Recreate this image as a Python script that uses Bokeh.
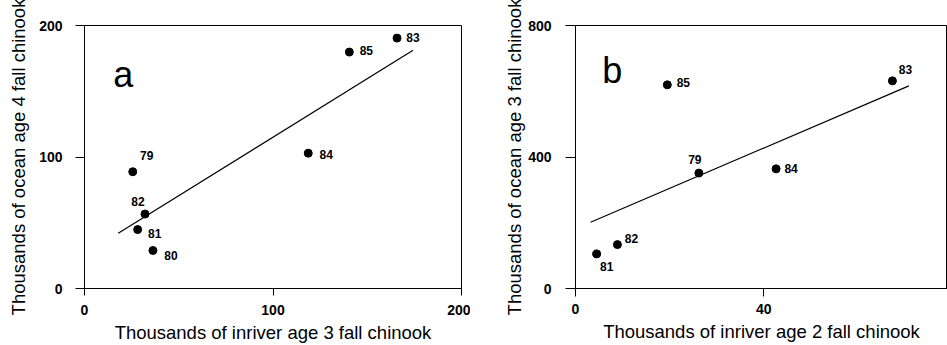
from bokeh.plotting import figure
from bokeh.layouts import row
from bokeh.models import ColumnDataSource, Range1d, FixedTicker, Label
from bokeh.core.properties import value
from bokeh.embed import file_html
from bokeh.resources import INLINE

FONT = "Liberation Sans"

# ---- Panel a data ----
a_years = ["79", "82", "81", "80", "84", "85", "83"]
a_inriver_age3 = [25.6, 32.1, 28.2, 36.3, 118.7, 140.5, 165.8]
a_ocean_age4 = [88.8, 56.6, 44.8, 28.9, 102.9, 179.8, 190.4]
a_fit_x = [17.9, 174.3]
a_fit_y = [42.0, 181.1]
a_xticks = [0, 100, 200]
a_yticks = [0, 100, 200]

# ---- Panel b data ----
b_years = ["85", "83", "79", "84", "82", "81"]
b_inriver_age2 = [19.5, 67.3, 26.2, 42.6, 8.9, 4.5]
b_ocean_age3 = [619.5, 631.6, 351.0, 363.9, 133.5, 105.3]
b_fit_x = [3.2, 70.8]
b_fit_y = [201.5, 616.5]
b_xticks = [0, 40, 80]
b_yticks = [0, 400, 800]

# label placement (screen px offsets, layout only)
a_dx = [14, -7, 17, 18, 18, 17, 16]
a_dy = [-16, -13, 4, 5, 1, -2, -1]
b_dx = [16, 13, -4, 15, 14, 10]
b_dy = [-2, -11, -14, 0, -6, 13]

H = 345


def style(p, xticks, yticks, xlabel, ylabel, ytick_out, xtick_out,
          xstand, ystand, ylab_stand):
    p.xgrid.visible = False
    p.ygrid.visible = False
    p.outline_line_color = "black"
    p.outline_line_width = 1
    p.background_fill_color = "white"
    p.border_fill_color = "white"
    for ax in (p.xaxis[0], p.yaxis[0]):
        ax.axis_line_color = "black"
        ax.major_tick_line_color = "black"
        ax.minor_tick_line_color = None
        ax.major_tick_in = 0
        ax.major_label_text_font = FONT
        ax.major_label_text_font_style = "bold"
        ax.major_label_text_font_size = "14px"
        ax.major_label_text_color = "black"
        ax.axis_label_text_font = FONT
        ax.axis_label_text_font_style = "normal"
        ax.axis_label_text_font_size = "18.5px"
        ax.axis_label_text_color = "black"
    p.xaxis[0].ticker = FixedTicker(ticks=xticks)
    p.yaxis[0].ticker = FixedTicker(ticks=yticks)
    p.xaxis[0].major_tick_out = xtick_out
    p.yaxis[0].major_tick_out = ytick_out
    p.xaxis[0].major_label_standoff = xstand
    p.yaxis[0].major_label_standoff = ystand
    p.xaxis[0].axis_label_standoff = 4
    p.yaxis[0].axis_label_standoff = ylab_stand
    p.xaxis[0].axis_label = xlabel
    p.yaxis[0].axis_label = ylabel


# ---- Figure a ----
pa = figure(width=470, height=H, output_backend="svg", toolbar_location=None,
            x_range=Range1d(0, 200), y_range=Range1d(0, 200),
            min_border_left=84, min_border_right=9, min_border_top=25,
            min_border_bottom=55)
style(pa, a_xticks, a_yticks, "Thousands of inriver age 3 fall chinook",
      "Thousands of ocean age 4 fall chinook", 9, 7, 9, 13, 7)
pa.line(a_fit_x, a_fit_y, line_color="black", line_width=1.2)
src_a = ColumnDataSource(dict(x=a_inriver_age3, y=a_ocean_age4, t=a_years,
                              dx=a_dx, dy=a_dy))
pa.scatter("x", "y", source=src_a, size=8, color="black")
pa.text("x", "y", text="t", source=src_a, x_offset="dx", y_offset="dy",
        text_font=value(FONT), text_font_style="bold", text_font_size="12px",
        text_align="center", text_baseline="middle", text_color="black")
pa.add_layout(Label(x=20.5, y=163, text="a", text_font=FONT,
                    text_font_size="36px", text_align="center",
                    text_baseline="middle", text_color="black"))

# ---- Figure b ----
pb = figure(width=477, height=H, output_backend="svg", toolbar_location=None,
            x_range=Range1d(0, 79), y_range=Range1d(0, 800),
            min_border_left=105, min_border_right=0, min_border_top=22,
            min_border_bottom=57)
style(pb, b_xticks, b_yticks, "Thousands of inriver age 2 fall chinook",
      "Thousands of ocean age 3 fall chinook", 10, 8, 7, 14, 0)
pb.line(b_fit_x, b_fit_y, line_color="black", line_width=1.2)
src_b = ColumnDataSource(dict(x=b_inriver_age2, y=b_ocean_age3, t=b_years,
                              dx=b_dx, dy=b_dy))
pb.scatter("x", "y", source=src_b, size=8, color="black")
pb.text("x", "y", text="t", source=src_b, x_offset="dx", y_offset="dy",
        text_font=value(FONT), text_font_style="bold", text_font_size="12px",
        text_align="center", text_baseline="middle", text_color="black")
pb.add_layout(Label(x=7.8, y=662, text="b", text_font=FONT,
                    text_font_size="36px", text_align="center",
                    text_baseline="middle", text_color="black"))
# cut-off "80" tick label at the right edge (the reference is cropped there)
pb.add_layout(Label(x=367, y=-22, x_units="screen", y_units="screen",
                    text=str(b_xticks[-1]),
                    text_font=FONT, text_font_style="bold",
                    text_font_size="14px", text_align="left",
                    text_baseline="middle", text_color="black"))

layout = row(pa, pb)
open("out.html", "w").write(file_html(layout, INLINE))
